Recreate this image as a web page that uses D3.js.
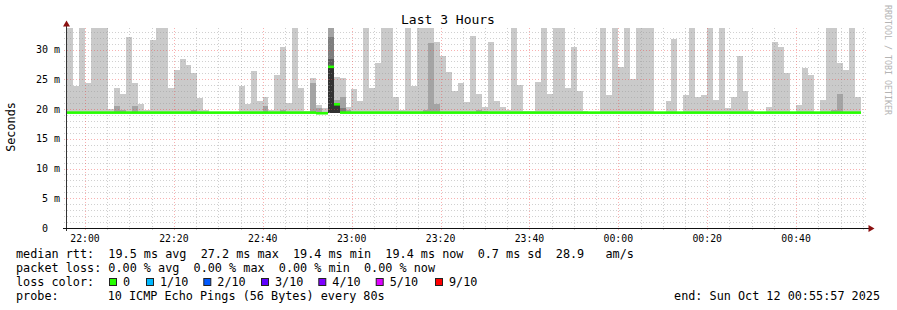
<!DOCTYPE html>
<html>
<head>
<meta charset="utf-8">
<script src="https://cdn.jsdelivr.net/npm/d3@7"></script>
<style>
body { margin: 0; background: #fff; }
text { font-family: "DejaVu Sans Mono", monospace; white-space: pre; }
</style>
</head>
<body>
<div id="chart"></div>
<script>
// smokeping "Last 3 Hours" graph, redrawn with d3

// time range of the graph, one smoke column every 80 s
var startTime = new Date(2025, 9, 11, 21, 55, 57);
var endTime = new Date(2025, 9, 12, 0, 55, 57);
var stepSec = 80;

// highest ping of each step (ms) -> light smoke
var pingMax = [
  34, 23.9, 34, 24.3, 34, 34, 34, 20.0, 23.6, 22.5,
  32.2, 24.3, 20.9, 19.9, 31.6, 34, 34, 23.6, 26.6, 28.5,
  27.4, 26.0, 21.8, 19.9, 19.5, 19.5, 19.5, 19.5, 19.5, 23.8,
  20.9, 26.4, 21.3, 22.1, 19.9, 25.7, 30.5, 21.0, 34, 23.5,
  19.7, 25.3, 20.6, 20.1, 34, 25.4, 25.3, 20.3, 23.3, 21.3,
  34, 23.6, 27.8, 34, 34, 22.1, 19.9, 34, 23.9, 34,
  34, 34, 31.3, 28.9, 26.3, 23.1, 24.3, 21.2, 32.3, 22.5,
  20.4, 31.2, 21.4, 20.3, 19.9, 34, 24.1, 19.6, 19.6, 24.5,
  34, 22.6, 34, 34, 23.6, 30.5, 23.1, 19.7, 19.5, 19.5,
  34, 22.3, 34, 27.0, 34, 25.0, 34, 34, 34, 19.5,
  19.5, 21.3, 31.7, 19.5, 22.3, 34, 22.0, 22.3, 34, 21.6,
  34, 20.1, 22.1, 29.0, 23.1, 19.9, 19.5, 19.5, 20.4, 31.2,
  30.5, 26.1, 19.5, 20.7, 26.9, 25.7, 19.5, 21.6, 34, 34,
  27.8, 26.6, 34, 22.0
];

// median rtt of each step (ms)
var medianRtt = [
  19.4, 19.4, 19.4, 19.4, 19.4, 19.4, 19.4, 19.4, 19.4, 19.4,
  19.4, 19.4, 19.4, 19.4, 19.4, 19.4, 19.4, 19.4, 19.4, 19.4,
  19.4, 19.4, 19.4, 19.4, 19.4, 19.4, 19.4, 19.4, 19.4, 19.4,
  19.4, 19.4, 19.4, 19.4, 19.4, 19.4, 19.4, 19.4, 19.4, 19.4,
  19.4, 19.4, 19.3, 19.3, 27.1, 20.8, 19.4, 19.4, 19.4, 19.4,
  19.4, 19.4, 19.4, 19.4, 19.4, 19.4, 19.4, 19.4, 19.4, 19.4,
  19.4, 19.4, 19.4, 19.4, 19.4, 19.4, 19.4, 19.4, 19.4, 19.4,
  19.4, 19.4, 19.4, 19.4, 19.4, 19.4, 19.4, 19.4, 19.4, 19.4,
  19.4, 19.4, 19.4, 19.4, 19.4, 19.4, 19.4, 19.4, 19.4, 19.4,
  19.4, 19.4, 19.4, 19.4, 19.4, 19.4, 19.4, 19.4, 19.4, 19.4,
  19.4, 19.4, 19.4, 19.4, 19.4, 19.4, 19.4, 19.4, 19.4, 19.4,
  19.4, 19.4, 19.4, 19.4, 19.4, 19.4, 19.4, 19.4, 19.4, 19.4,
  19.4, 19.4, 19.4, 19.4, 19.4, 19.4, 19.4, 19.4, 19.4, 19.4,
  19.4, 19.4, 19.4, 19.4
];

// darker smoke bands: [step, band (2..5), top in ms]
var innerSmoke = [
  [8, 2, 20.5], [9, 2, 19.8], [11, 2, 20.5], [21, 2, 19.8], [33, 2, 20.5],
  [36, 2, 19.8], [41, 2, 24.4], [42, 2, 20.1],
  [44, 2, 34], [44, 3, 32.1], [44, 4, 28.4], [44, 5, 27.1],
  [45, 2, 21.6], [45, 3, 21.0], [45, 5, 20.8],
  [46, 2, 22.1], [46, 3, 20.2], [47, 2, 19.9],
  [60, 2, 19.8], [61, 2, 31.1], [62, 2, 20.9], [69, 2, 19.8], [70, 2, 19.7],
  [129, 2, 19.9], [130, 2, 22.6]
];
var pingMin = 19.35;

var yTicks = [0, 5, 10, 15, 20, 25, 30];
var yTickLabels = ["0  ", "5 m", "10 m", "15 m", "20 m", "25 m", "30 m"];

var lossLabels = ["0", "1/10", "2/10", "3/10", "4/10", "5/10", "9/10"];
var lossColors = ["#26ff00", "#00b8ff", "#0059ff", "#5e00ff", "#7e00ff", "#dd00ff", "#ff0000"];

var statLines = [
  "median rtt:  19.5 ms avg  27.2 ms max  19.4 ms min  19.4 ms now  0.7 ms sd  28.9   am/s",
  "packet loss: 0.00 % avg  0.00 % max  0.00 % min  0.00 % now"
];
var probeText = "10 ICMP Echo Pings (56 Bytes) every 80s";
var endText = "end: Sun Oct 12 00:55:57 2025";


// plot box
var plotL = 67, plotR = 867, plotT = 28, plotB = 228;
var smokeShades = ["#cacaca", "#a4a4a4", "#7e7e7e", "#585858", "#323232"];

var svg = d3.select("#chart")
    .append("svg")
    .attr("width", 897)
    .attr("height", 310);

svg.append("rect").attr("width", 897).attr("height", 310).attr("fill", "#fff");

var x = d3.scaleTime()
    .domain([startTime, endTime])
    .range([plotL, plotR]);

var y = d3.scaleLinear()
    .domain([0, 33.63])
    .range([plotB, plotT])
    .clamp(true);

function colX(i) {
    return Math.round(x(new Date(startTime.getTime() + i * stepSec * 1000)));
}

// light smoke
svg.append("g")
    .selectAll("rect")
    .data(pingMax)
    .enter().append("rect")
    .attr("x", function(d, i) { return colX(i); })
    .attr("width", function(d, i) { return colX(i + 1) - colX(i); })
    .attr("y", function(d) { return Math.round(y(d)); })
    .attr("height", function(d) { return Math.max(0, Math.round(y(pingMin)) - Math.round(y(d))); })
    .attr("fill", smokeShades[0])
    .attr("shape-rendering", "crispEdges");

// darker inner bands
svg.append("g")
    .selectAll("rect")
    .data(innerSmoke)
    .enter().append("rect")
    .attr("x", function(d) { return colX(d[0]); })
    .attr("width", function(d) { return colX(d[0] + 1) - colX(d[0]); })
    .attr("y", function(d) { return Math.round(y(d[2])); })
    .attr("height", function(d) { return Math.max(0, Math.round(y(pingMin)) - Math.round(y(d[2]))); })
    .attr("fill", function(d) { return smokeShades[d[1] - 1]; })
    .attr("shape-rendering", "crispEdges");

// grid, drawn over the smoke like rrdtool does
var grid = svg.append("g").attr("shape-rendering", "crispEdges");
var minorY = d3.range(1, 34).filter(function(v) { return v % 5 !== 0; });
var majorY = d3.range(5, 34, 5);
var minorColor = "rgba(150,150,150,0.45)";
var majorColor = "rgba(240,60,60,0.4)";

grid.selectAll("line.hminor")
    .data(minorY)
    .enter().append("line")
    .attr("x1", plotL - 3).attr("x2", plotR)
    .attr("y1", function(d) { return Math.round(y(d)) + 0.5; })
    .attr("y2", function(d) { return Math.round(y(d)) + 0.5; })
    .attr("stroke", minorColor)
    .attr("stroke-dasharray", "1,2");

var minorX = d3.timeMinute.every(5).range(startTime, endTime)
    .filter(function(d) { return d.getMinutes() % 20 !== 0; });
var majorX = d3.timeMinute.every(20).range(startTime, endTime);

grid.selectAll("line.vminor")
    .data(minorX)
    .enter().append("line")
    .attr("x1", function(d) { return Math.round(x(d)) + 0.5; })
    .attr("x2", function(d) { return Math.round(x(d)) + 0.5; })
    .attr("y1", plotT).attr("y2", plotB + 3)
    .attr("stroke", minorColor)
    .attr("stroke-dasharray", "1,2");

grid.selectAll("line.hmajor")
    .data(majorY)
    .enter().append("line")
    .attr("x1", plotL - 3).attr("x2", plotR)
    .attr("y1", function(d) { return Math.round(y(d)) + 0.5; })
    .attr("y2", function(d) { return Math.round(y(d)) + 0.5; })
    .attr("stroke", majorColor)
    .attr("stroke-dasharray", "1,2");

grid.selectAll("line.vmajor")
    .data(majorX)
    .enter().append("line")
    .attr("x1", function(d) { return Math.round(x(d)) + 0.5; })
    .attr("x2", function(d) { return Math.round(x(d)) + 0.5; })
    .attr("y1", plotT).attr("y2", plotB + 3)
    .attr("stroke", majorColor)
    .attr("stroke-dasharray", "1,2");

// median rtt, coloured by loss
svg.append("g")
    .selectAll("rect")
    .data(medianRtt)
    .enter().append("rect")
    .attr("x", function(d, i) { return colX(i); })
    .attr("width", function(d, i) { return colX(i + 1) - colX(i); })
    .attr("y", function(d) { return y(d) - 1.3; })
    .attr("height", 2.6)
    .attr("fill", lossColors[0]);

// axes
svg.append("line")
    .attr("x1", plotL - 0.5).attr("x2", plotL - 0.5)
    .attr("y1", plotB + 3).attr("y2", 24)
    .attr("stroke", "#333");
svg.append("line")
    .attr("x1", plotL - 4).attr("x2", plotR + 2)
    .attr("y1", plotB + 0.5).attr("y2", plotB + 0.5)
    .attr("stroke", "#111");
svg.append("path")
    .attr("d", "M" + (plotL - 0.5) + ",20.5 L" + (plotL - 4) + ",26.5 L" + (plotL + 3) + ",26.5 Z")
    .attr("fill", "#8b1010");
svg.append("path")
    .attr("d", "M874.5," + (plotB + 0.5) + " L868.5," + (plotB - 3) + " L868.5," + (plotB + 4) + " Z")
    .attr("fill", "#8b1010");

// y tick labels
svg.append("g")
    .selectAll("text")
    .data(yTicks)
    .enter().append("text")
    .attr("x", 60)
    .attr("y", function(d) { return y(d) + 3.6; })
    .attr("text-anchor", "end")
    .attr("font-size", "10px")
    .attr("fill", "#000")
    .text(function(d, i) { return yTickLabels[i]; });

// x tick labels
svg.append("g")
    .selectAll("text")
    .data(majorX)
    .enter().append("text")
    .attr("x", function(d) { return x(d); })
    .attr("y", 241.5)
    .attr("text-anchor", "middle")
    .attr("font-size", "9.8px")
    .attr("fill", "#000")
    .text(d3.timeFormat("%H:%M"));

// title
svg.append("text")
    .attr("x", 448)
    .attr("y", 24)
    .attr("text-anchor", "middle")
    .attr("font-size", "13px")
    .text("Last 3 Hours");

// vertical axis title
svg.append("text")
    .attr("transform", "translate(15,127) rotate(-90)")
    .attr("text-anchor", "middle")
    .attr("font-size", "11.8px")
    .text("Seconds");

// watermark
svg.append("text")
    .attr("transform", "translate(885,60) rotate(90)")
    .attr("text-anchor", "middle")
    .attr("font-size", "8.3px")
    .attr("fill", "#b4b4b4")
    .text("RRDTOOL / TOBI OETIKER");

// legend
var legend = svg.append("g").attr("font-size", "11.8px").attr("fill", "#000");

legend.selectAll("text.stat")
    .data(statLines)
    .enter().append("text")
    .attr("x", 16)
    .attr("y", function(d, i) { return 257.5 + i * 14; })
    .text(function(d) { return d; });

legend.append("text")
    .attr("x", 16).attr("y", 285.5)
    .text("loss color:");

var boxX = [109, 146, 203.3, 261, 318.3, 375.7, 435];

legend.selectAll("rect.loss")
    .data(lossColors)
    .enter().append("rect")
    .attr("x", function(d, i) { return boxX[i] + 0.5; })
    .attr("y", 278.5)
    .attr("width", 7)
    .attr("height", 7)
    .attr("fill", function(d) { return d; })
    .attr("stroke", "#222")
    .attr("stroke-width", 1);

legend.selectAll("text.loss")
    .data(lossLabels)
    .enter().append("text")
    .attr("x", function(d, i) { return boxX[i] + 14; })
    .attr("y", 285.5)
    .text(function(d) { return d; });

legend.append("text")
    .attr("x", 16).attr("y", 299.5)
    .text("probe:");
legend.append("text")
    .attr("x", 107.7).attr("y", 299.5)
    .text(probeText);
legend.append("text")
    .attr("x", 880).attr("y", 299.5)
    .attr("text-anchor", "end")
    .text(endText);
</script>
</body>
</html>
